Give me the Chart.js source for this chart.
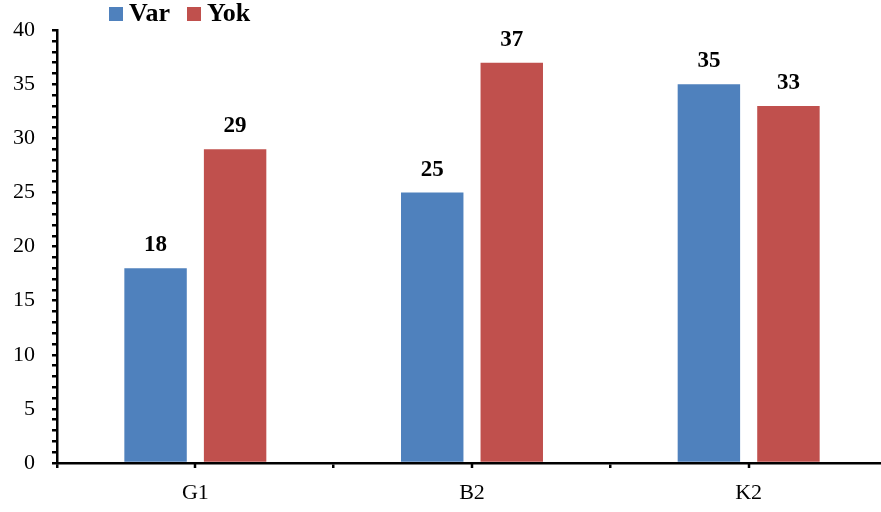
<!DOCTYPE html>
<html>
<head>
<meta charset="utf-8">
<script src="https://cdn.jsdelivr.net/npm/chart.js"></script>
<style>
    html, body { margin: 0; padding: 0; background: #fff; overflow: hidden; }
    #wrap { position: relative; width: 881px; height: 512px; overflow: hidden; }
    #legend { position: absolute; left: 109px; top: 0px; font: bold 26px 'Liberation Serif', 'Times New Roman', serif; line-height: 26px; color: #000; white-space: nowrap; }
    #legend .box { display: inline-block; width: 14px; height: 14px; margin-right: 6px; vertical-align: 0px; }
    #legend .item + .item { margin-left: 17px; }
</style>
</head>
<body>
<div id="wrap">
    <!-- plot runs a few pixels past the right edge, as in the original -->
    <canvas id="chart" width="887" height="512"></canvas>
    <div id="legend"></div>
</div>
<script>
var categories = ['G1', 'B2', 'K2'];
var varValues = [18, 25, 35];
var yokValues = [29, 37, 33];
var seriesNames = ['Var', 'Yok'];
var seriesColors = ['#4F81BD', '#C0504D'];

var serif = "'Liberation Serif', 'Times New Roman', serif";

// legend built from the series names
var legendHtml = '';
for (var i = 0; i < seriesNames.length; i++) {
    legendHtml += '<span class="item"><span class="box" style="background:' + seriesColors[i] + '"></span>' + seriesNames[i] + '</span>';
}
document.getElementById('legend').innerHTML = legendHtml;

// value labels above the bars
var valueLabels = {
    id: 'valueLabels',
    afterDatasetsDraw: function(chart) {
        var ctx = chart.ctx;
        ctx.save();
        ctx.font = 'bold 23px ' + serif;
        ctx.fillStyle = '#000';
        ctx.textAlign = 'center';
        ctx.textBaseline = 'alphabetic';
        chart.data.datasets.forEach(function(ds, d) {
            chart.getDatasetMeta(d).data.forEach(function(bar, i) {
                ctx.fillText(ds.data[i], bar.x, bar.y - 17);
            });
        });
        ctx.restore();
    }
};

// extra tick marks under each category centre
var centreTicks = {
    id: 'centreTicks',
    afterDraw: function(chart) {
        var ctx = chart.ctx;
        var x = chart.scales.x;
        ctx.save();
        ctx.strokeStyle = '#000';
        ctx.lineWidth = 2.5;
        for (var i = 0; i < categories.length; i++) {
            var px = Math.round(x.getPixelForValue(i));
            ctx.beginPath();
            ctx.moveTo(px, x.top);
            ctx.lineTo(px, x.top + 5);
            ctx.stroke();
        }
        ctx.restore();
    }
};

var chart = new Chart(document.getElementById('chart'), {
    type: 'bar',
    data: {
        labels: categories,
        datasets: [{
            label: seriesNames[0],
            data: varValues,
            backgroundColor: seriesColors[0],
            barPercentage: 0.785,
            categoryPercentage: 0.575
        }, {
            label: seriesNames[1],
            data: yokValues,
            backgroundColor: seriesColors[1],
            barPercentage: 0.785,
            categoryPercentage: 0.575
        }]
    },
    options: {
        responsive: false,
        animation: false,
        layout: { padding: { top: 30, right: 0, left: 0, bottom: 0 } },
        plugins: {
            legend: { display: false },
            tooltip: { enabled: false }
        },
        scales: {
            x: {
                afterFit: function(scale) { scale.height = 49; },
                border: { color: '#000', width: 2.5 },
                grid: { display: true, offset: true, drawOnChartArea: false, drawTicks: true, tickLength: 5, color: '#000', lineWidth: 2.5 },
                ticks: { color: '#000', font: { family: serif, size: 22 }, padding: 12 }
            },
            y: {
                min: 0,
                max: 40,
                afterFit: function(scale) { scale.width = 57; },
                border: { color: '#000', width: 2.5 },
                grid: { display: true, drawOnChartArea: false, drawTicks: true, tickLength: 5, color: '#000', lineWidth: 2.5 },
                ticks: {
                    stepSize: 1,
                    autoSkip: false,
                    color: '#000',
                    padding: 17,
                    font: { family: serif, size: 22 },
                    callback: function(v) { return v % 5 === 0 ? v : ''; }
                }
            }
        }
    },
    plugins: [valueLabels, centreTicks]
});
</script>
</body>
</html>
